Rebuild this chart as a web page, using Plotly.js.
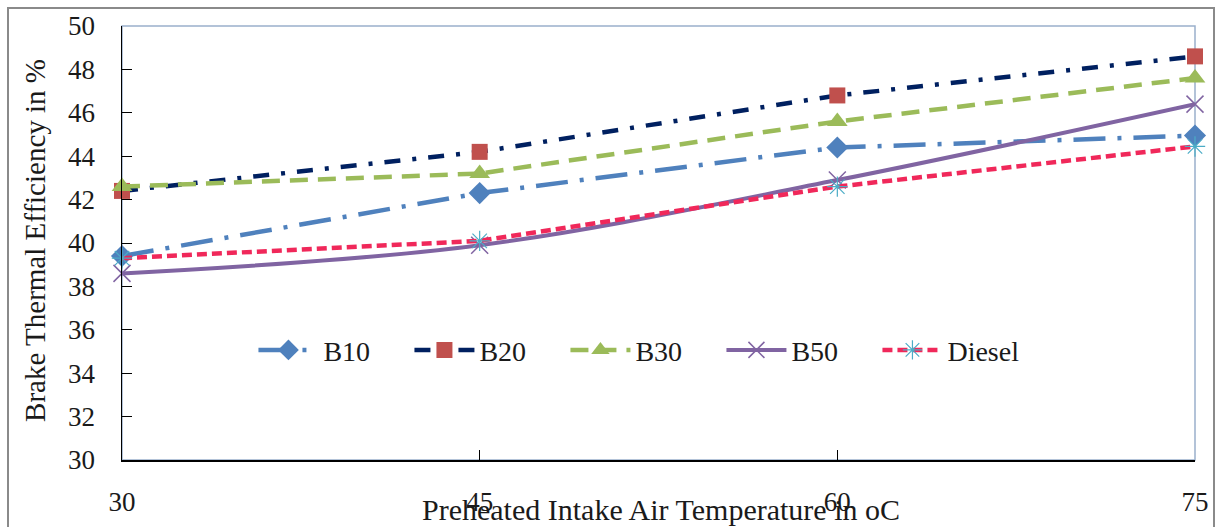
<!DOCTYPE html>
<html>
<head>
<meta charset="utf-8">
<script src="https://cdn.plot.ly/plotly-3.0.1.min.js"></script>
<style>
  html, body { margin:0; padding:0; background:#fff; }
  #wrap { position:relative; width:1219px; height:527px; overflow:hidden; }
  #chart { position:absolute; left:0; top:0; width:1219px; height:527px; }
  #frame { position:absolute; left:7px; top:7px; width:1204px; height:540px; border:2px solid #8a8a8a; pointer-events:none; }
</style>
</head>
<body>
<div id="wrap"><div id="chart"></div><div id="frame"></div></div>
<script>
const temps = [30, 45, 60, 75];
const b10 = [39.4, 42.3, 44.4, 44.95];
const b20 = [42.4, 44.2, 46.8, 48.6];
const b30 = [42.6, 43.2, 45.6, 47.6];
const b50 = [38.6, 39.9, 42.9, 46.4];
const diesel = [39.3, 40.1, 42.6, 44.45];
const seriesNames = ['B10', 'B20', 'B30', 'B50', 'Diesel'];
const yTicks = [30, 32, 34, 36, 38, 40, 42, 44, 46, 48, 50];
const xTicks = [30, 45, 60, 75];
const xTitle = 'Preheated Intake Air Temperature in oC';
const yTitle = 'Brake Thermal Efficiency in %';

const serif = 'Liberation Serif, Times New Roman, serif';

const traces = [
  {x: temps, y: b10, name: seriesNames[0], mode: 'lines+markers',
   line: {color: '#4F81BD', width: 4.5, dash: '32px,12px,4px,12px'},
   marker: {symbol: 'diamond', size: 17, color: '#4F81BD'}},
  {x: temps, y: b20, name: seriesNames[1], mode: 'lines+markers',
   line: {color: '#002060', width: 4.5, dash: '16px,12px,4px,12px'},
   marker: {symbol: 'square', size: 16, color: '#C0504D'}},
  {x: temps, y: b30, name: seriesNames[2], mode: 'lines+markers',
   line: {color: '#9BBB59', width: 4.5, dash: '18px,10px'},
   marker: {symbol: 'triangle-up', size: 18, color: '#9BBB59'}},
  {x: temps, y: b50, name: seriesNames[3], mode: 'lines+markers',
   line: {color: '#8064A2', width: 4, shape: 'spline'},
   marker: {symbol: 'x-thin-open', size: 17, color: '#8064A2', line: {width: 1.5, color: '#8064A2'}}},
  {x: temps, y: diesel, name: seriesNames[4], mode: 'lines+markers',
   line: {color: '#F0285A', width: 4.5, dash: '10px,5px'},
   marker: {symbol: 'asterisk-open', size: 17, color: '#4BACC6', line: {width: 1.2, color: '#4BACC6'}}}
];

const layout = {
  width: 1219, height: 527,
  margin: {l: 122, r: 24, t: 26, b: 67},
  paper_bgcolor: 'rgba(0,0,0,0)', plot_bgcolor: '#fff',
  font: {family: serif, size: 27, color: '#1a1a1a'},
  showlegend: true,
  legend: {orientation: 'h', x: 0.1225, xanchor: 'left', y: 0.253, yanchor: 'middle',
           bgcolor: 'rgba(0,0,0,0)', font: {family: serif, size: 28, color: '#1a1a1a'},
           entrywidth: 81, entrywidthmode: 'pixels', itemwidth: 60, traceorder: 'normal'},
  xaxis: {range: [30, 75], tickvals: xTicks, ticktext: xTicks.map(String),
          showgrid: false, zeroline: false, showline: true, linecolor: '#000', linewidth: 1.5,
          ticks: 'inside', ticklen: 10, tickcolor: '#000', ticklabelstandoff: 17,
          tickfont: {family: serif, size: 27, color: '#1a1a1a'}},
  yaxis: {range: [30, 50], tickvals: yTicks, ticktext: yTicks.map(String),
          showgrid: false, zeroline: false, showline: true, linecolor: '#000', linewidth: 1.5,
          ticks: 'inside', ticklen: 10, tickcolor: '#000', ticklabelstandoff: 20,
          tickfont: {family: serif, size: 27, color: '#1a1a1a'}},
  shapes: [{type: 'rect', xref: 'paper', yref: 'paper', x0: 0, x1: 1, y0: 0, y1: 1,
            line: {color: '#9AB0CC', width: 1.5}, layer: 'below'}],
  annotations: [
    {text: xTitle, xref: 'paper', yref: 'paper', x: 0.502, y: -0.113, xanchor: 'center', yanchor: 'middle',
     showarrow: false, font: {family: serif, size: 30, color: '#1a1a1a'}},
    {text: yTitle, xref: 'paper', yref: 'paper', x: -0.081, y: 0.505, xanchor: 'center', yanchor: 'middle',
     textangle: -90, showarrow: false, font: {family: serif, size: 29, color: '#1a1a1a'}}
  ]
};

traces.forEach(t => t.cliponaxis = false);
Plotly.newPlot('chart', traces, layout, {displayModeBar: false, staticPlot: true});
</script>
</body>
</html>
